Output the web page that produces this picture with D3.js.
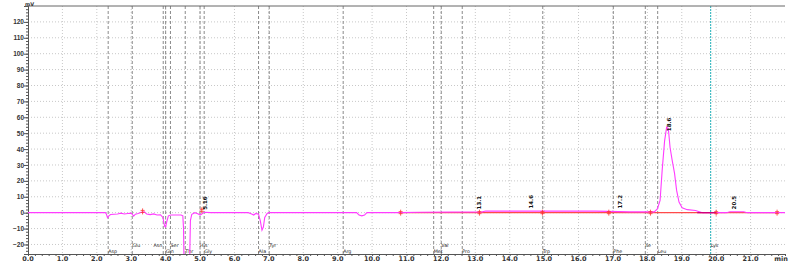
<!DOCTYPE html>
<html>
<head>
<meta charset="utf-8">
<script src="https://cdn.jsdelivr.net/npm/d3@7"></script>
<style>
  body { margin: 0; background: #fff; }
  svg { display: block; font-family: "DejaVu Sans", sans-serif; }
</style>
</head>
<body>
<div id="chart"></div>
<script>
// detector signal (mV)
const traceTime = [0, 2.25, 2.28, 2.31, 2.35, 2.4, 2.6, 2.7, 2.8, 2.9, 3.0, 3.03, 3.07, 3.12, 3.2, 3.3, 3.38,
    3.45, 3.55, 3.65, 3.75, 3.85, 3.92, 3.97, 4.0, 4.03, 4.08, 4.15, 4.3, 4.45, 4.5, 4.52, 4.54, 4.69,
    4.72, 4.76, 4.85, 4.95, 5.0, 5.05, 5.1, 5.15, 5.3, 6.4, 6.5, 6.56, 6.62, 6.7, 6.75, 6.8, 6.84, 6.88,
    6.95, 7.0, 9.55, 9.62, 9.7, 9.78, 9.85, 10.8, 11.4, 13.2, 13.3, 16.5, 17.5, 18.2, 18.29, 18.37, 18.43,
    18.5, 18.56, 18.61, 18.66, 18.72, 18.79, 18.85, 18.92, 19.01, 19.16, 19.4, 19.6, 20.3, 20.4, 20.8, 20.9, 22.0];
const traceSignal = [0, 0, -1, -3.1, -2.0, -1.2, -0.8, -0.3, -0.8, -0.5, -0.3, -1, -2.2, -1, -0.5, 0.3, 0.5,
    -0.8, -1.2, -0.8, -1.5, -1.3, -3, -8.5, -9, -6, -2, -1.5, -1.5, -1.5, -2, -10, -40, -40,
    -5, -1, 0, -0.8, -1.5, -0.8, 0, 0.3, 0, 0, -0.8, -1.5, -0.5, -1, -5, -11, -9, -3,
    -0.5, 0, 0, -1.5, -2, -1.5, 0, 0, 0.3, 0.5, 1.0, 1.0, 0.5, 0.5, 2.3, 7.7, 26.6,
    45, 53.8, 52.8, 41, 33, 24.7, 14, 6.7, 3.1, 1.9, 1.4, 0, 0, 0.6, 0.6, 0, 0];

// component windows (name, expected time)
const compNames = ["Asp", "Glu", "Asn", "Gln", "Ser", "Thr", "His", "Gly", "Ala", "Tyr", "Arg",
    "Met", "Val", "Pro", "Trp", "Phe", "Ile", "Leu", "Lys"];
const compTimes = [2.33, 3.03, 3.93, 4.0, 4.14, 4.57, 5.0, 5.12, 6.7, 7.01, 9.16,
    11.79, 12.01, 12.62, 14.96, 17.01, 17.94, 18.3, 19.84];
const compRow = [1, 0, 0, 1, 0, 1, 0, 1, 1, 0, 1, 1, 0, 1, 1, 1, 0, 1, 0];

// integrated peaks
const peakTimes = [5.15, 13.1, 14.62, 17.2, 18.62, 20.52];
const peakLabels = ["5.16", "13.1", "14.6", "17.2", "18.6", "20.5"];
const peakLevel = [0.5, 0.8, 1.3, 1.3, 50, 0.8];

// integration marks on the baseline
const markTimes = [3.33, 5.05, 10.83, 13.12, 14.95, 16.88, 18.09, 20.0, 21.77];
const markLevel = [0.8, 1.5, 0, 0, 0, 0, 0, 0, 0];

const xTicks = d3.range(0, 22, 1);
const yTicks = d3.range(-20, 121, 10);

var width = 800, height = 262;
var margin = { top: 6, right: 15, bottom: 8, left: 28 };

var x = d3.scaleLinear().domain([0, 22]).range([margin.left, width - margin.right]);
var y = d3.scaleLinear().domain([-26, 130]).range([height - margin.bottom, margin.top]);

var svg = d3.select("#chart").append("svg")
    .attr("width", width)
    .attr("height", height);

svg.append("clipPath").attr("id", "plot")
    .append("rect")
    .attr("x", x(0)).attr("y", y(130))
    .attr("width", x(22) - x(0)).attr("height", y(-26) - y(130));

// grid
svg.append("g").selectAll("line").data(yTicks).enter().append("line")
    .attr("x1", x(0)).attr("x2", x(22))
    .attr("y1", d => y(d)).attr("y2", d => y(d))
    .attr("stroke", "#c8c8c8").attr("stroke-dasharray", "1,2");
svg.append("g").selectAll("line").data(xTicks.slice(1)).enter().append("line")
    .attr("x1", d => x(d)).attr("x2", d => x(d))
    .attr("y1", y(130)).attr("y2", y(-26))
    .attr("stroke", "#c8c8c8").attr("stroke-dasharray", "1,2");

// component windows
svg.append("g").selectAll("line").data(compTimes).enter().append("line")
    .attr("x1", d => x(d)).attr("x2", d => x(d))
    .attr("y1", y(130)).attr("y2", y(-26))
    .attr("stroke", (d, i) => compNames[i] == "Lys" ? "#20b0b8" : "#8a8a8a")
    .attr("stroke-dasharray", (d, i) => compNames[i] == "Lys" ? "2,1" : "3,2");
svg.append("g").selectAll("text").data(compTimes).enter().append("text")
    .attr("x", (d, i) => compNames[i] == "Asn" ? x(d) - 1 : x(d))
    .attr("y", (d, i) => compRow[i] ? 252.5 : 247.3)
    .attr("text-anchor", (d, i) => compNames[i] == "Asn" ? "end" : "start")
    .attr("font-size", 4.8)
    .attr("fill", "#222")
    .text((d, i) => compNames[i]);

// top frame
svg.append("line")
    .attr("x1", x(0)).attr("x2", x(22))
    .attr("y1", y(130)).attr("y2", y(130))
    .attr("stroke", "#666");

// axes
var xAxis = svg.append("g")
    .attr("transform", "translate(0," + y(-26) + ")")
    .call(d3.axisBottom(x).tickValues(d3.range(0, 22.01, 0.2)).tickSize(2).tickFormat(""));
xAxis.selectAll(".tick text").remove();
svg.append("g").selectAll("text").data(xTicks).enter().append("text")
    .attr("x", d => x(d))
    .attr("y", 260.5)
    .attr("text-anchor", "middle")
    .attr("font-size", 6.5).attr("font-weight", "bold").attr("fill", "#333")
    .text(d => d.toFixed(1));
svg.append("text").attr("x", x(22) - 4).attr("y", 260.5)
    .attr("text-anchor", "middle").attr("font-size", 6.5).attr("font-weight", "bold")
    .attr("fill", "#333").text("min");

svg.append("g")
    .attr("transform", "translate(" + x(0) + ",0)")
    .call(d3.axisLeft(y).tickValues(d3.range(-26, 130, 2)).tickSize(2).tickFormat(""));
svg.append("g")
    .attr("transform", "translate(" + x(0) + ",0)")
    .call(d3.axisLeft(y).tickValues(yTicks).tickSize(4).tickFormat(d3.format("d")))
    .call(g => g.selectAll("text").attr("font-size", 6.5).attr("font-weight", "bold").attr("fill", "#333").attr("x", -4));
svg.selectAll(".domain").attr("stroke", "#555");
svg.selectAll(".tick line").attr("stroke", "#555");
svg.append("text").attr("x", x(0) - 3).attr("y", 6)
    .attr("font-size", 5).attr("font-weight", "bold").attr("fill", "#333").text("mV");

var plot = svg.append("g").attr("clip-path", "url(#plot)");

// integration baseline
plot.append("line")
    .attr("x1", x(markTimes[2])).attr("x2", x(markTimes[markTimes.length - 1]))
    .attr("y1", y(0)).attr("y2", y(0))
    .attr("stroke", "#ff4a4a").attr("stroke-width", 1.3);

// signal
var trace = traceTime.map((t, i) => [t, traceSignal[i]]);
plot.append("path")
    .datum(trace)
    .attr("fill", "none")
    .attr("stroke", "#ff3cff")
    .attr("stroke-width", 1.1)
    .attr("d", d3.line().x(d => x(d[0])).y(d => y(d[1])));

// overlapping stretch after the main peak
plot.append("line")
    .attr("x1", x(19.45)).attr("x2", x(20.0))
    .attr("y1", y(0)).attr("y2", y(0))
    .attr("stroke", "#d0007a").attr("stroke-width", 1.3);

// integration marks
var marks = plot.append("g").selectAll("g").data(markTimes).enter().append("g")
    .attr("transform", (d, i) => "translate(" + x(d) + "," + y(markLevel[i]) + ")")
    .attr("stroke", "#ff3030").attr("stroke-width", 0.8);
marks.append("line").attr("x1", 0).attr("x2", 0).attr("y1", -3).attr("y2", 3);
marks.append("line").attr("x1", -2).attr("x2", 2).attr("y1", -1).attr("y2", -1);
marks.append("line").attr("x1", -2).attr("x2", 2).attr("y1", 1).attr("y2", 1);

// peak labels
svg.append("g").selectAll("text").data(peakTimes).enter().append("text")
    .attr("transform", (d, i) => "translate(" + (x(d) + 2) + "," + (y(peakLevel[i]) - 2) + ") rotate(-90)")
    .attr("font-size", 5.5).attr("font-weight", "bold").attr("fill", "#111")
    .text((d, i) => peakLabels[i]);
</script>
</body>
</html>
